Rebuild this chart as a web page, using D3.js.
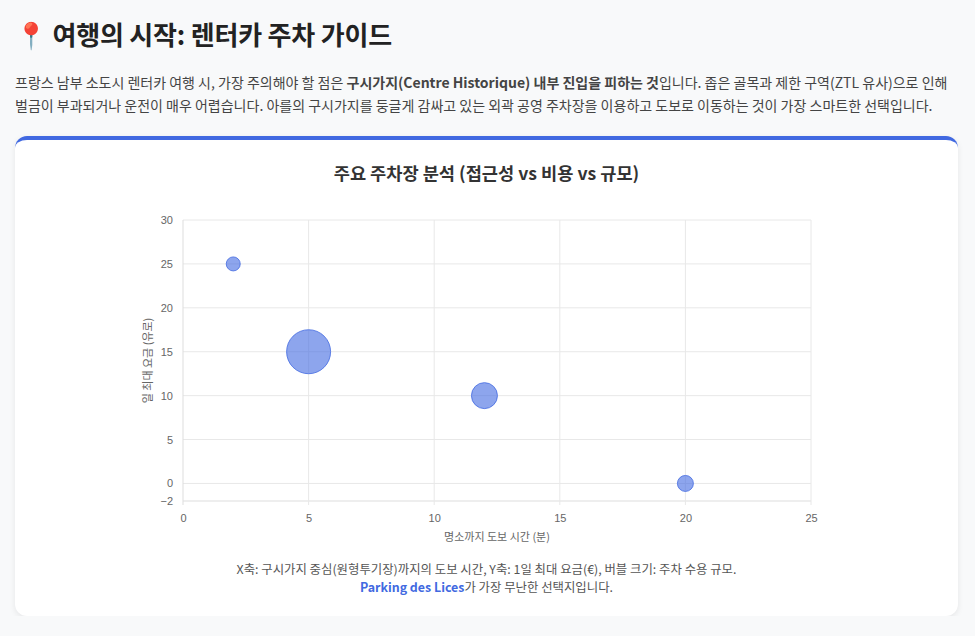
<!DOCTYPE html>
<html>
<head>
<meta charset="utf-8">
<script src="https://d3js.org/d3.v7.min.js"></script>
<style>
  body {
    margin: 0;
    padding: 0 15px;
    background: #f8f9fa;
    font-family: "Noto Sans CJK KR", "Noto Sans", sans-serif;
    color: #222;
  }
  h1 {
    margin: 0;
    padding-top: 17px;
    font-size: 26px;
    line-height: 34px;
    font-weight: 700;
    letter-spacing: -0.2px;
  }
  .intro {
    margin: 20px 0 0 0;
    font-size: 14px;
    line-height: 23px;
    color: #444;
  }
  .card {
    position: relative;
    margin-top: 19px;
    width: 943px;
    height: 476px;
    background: #fff;
    border-top: 4px solid #4169e1;
    border-radius: 12px;
    box-shadow: 0 2px 6px rgba(0,0,0,0.08);
  }
  .card svg { position: absolute; left: 0; top: 0; }
  .caption {
    position: absolute;
    left: 0; right: 0; top: 420px;
    margin: 0;
    text-align: center;
    font-size: 12.4px;
    line-height: 18px;
    color: #555;
  }
  .caption b { color: #4169e1; }
</style>
</head>
<body>
<h1>📍 여행의 시작: 렌터카 주차 가이드</h1>
<p class="intro">프랑스 남부 소도시 렌터카 여행 시, 가장 주의해야 할 점은 <b>구시가지(Centre Historique) 내부 진입을 피하는 것</b>입니다. 좁은 골목과 제한 구역(ZTL 유사)으로 인해 벌금이 부과되거나 운전이 매우 어렵습니다. 아를의 구시가지를 둥글게 감싸고 있는 외곽 공영 주차장을 이용하고 도보로 이동하는 것이 가장 스마트한 선택입니다.</p>
<div class="card" id="card">
  <p class="caption">X축: 구시가지 중심(원형투기장)까지의 도보 시간, Y축: 1일 최대 요금(€), 버블 크기: 주차 수용 규모.<br><b>Parking des Lices</b>가 가장 무난한 선택지입니다.</p>
</div>
<script>
// walking minutes to the centre, max daily fee (EUR), bubble radius (px, capacity)
const walkMinutes = [2, 5, 12, 20];
const dailyFee = [25, 15, 10, 0];
const bubbleRadius = [7, 22, 13, 8];

const xTicks = [0, 5, 10, 15, 20, 25];
const yTicks = [-2, 0, 5, 10, 15, 20, 25, 30];

const chartTitle = "주요 주차장 분석 (접근성 vs 비용 vs 규모)";
const xTitle = "명소까지 도보 시간 (분)";
const yTitle = "일 최대 요금 (유로)";

const W = 943, H = 420;
const plot = { left: 168, right: 796, top: 80, bottom: 361 };

const svg = d3.select("#card").append("svg")
  .attr("width", W)
  .attr("height", H);

const x = d3.scaleLinear().domain([0, 25]).range([plot.left, plot.right]);
const y = d3.scaleLinear().domain([-2, 30]).range([plot.bottom, plot.top]);

svg.append("text")
  .attr("x", W / 2)
  .attr("y", 40)
  .attr("text-anchor", "middle")
  .attr("font-family", "'Noto Sans CJK KR', 'Noto Sans', sans-serif")
  .attr("font-size", 17.6)
  .attr("font-weight", 700)
  .attr("fill", "#333")
  .text(chartTitle);

// grid
svg.append("g")
  .selectAll("line")
  .data(yTicks)
  .join("line")
  .attr("x1", plot.left).attr("x2", plot.right)
  .attr("y1", d => y(d)).attr("y2", d => y(d))
  .attr("stroke", d => d === -2 ? "#ddd" : "#e8e8e8")
  .attr("stroke-width", 1);

svg.append("g")
  .selectAll("line")
  .data(xTicks)
  .join("line")
  .attr("y1", plot.top).attr("y2", plot.bottom + 4)
  .attr("x1", d => x(d)).attr("x2", d => x(d))
  .attr("stroke", d => d === 0 ? "#ddd" : "#e8e8e8")
  .attr("stroke-width", 1);

// axes (labels only)
const xAxis = svg.append("g")
  .attr("transform", `translate(0,${plot.bottom})`)
  .call(d3.axisBottom(x).tickValues(xTicks).tickSize(0).tickPadding(13));
const yAxis = svg.append("g")
  .attr("transform", `translate(${plot.left},0)`)
  .call(d3.axisLeft(y).tickValues(yTicks).tickSize(0).tickPadding(10));

[xAxis, yAxis].forEach(g => {
  g.select(".domain").remove();
  g.selectAll("text")
    .attr("font-family", "'Liberation Sans', Arial, sans-serif")
    .attr("font-size", 11)
    .attr("fill", "#666");
});

svg.append("text")
  .attr("x", (plot.left + plot.right) / 2)
  .attr("y", 401)
  .attr("text-anchor", "middle")
  .attr("font-family", "'Noto Sans CJK KR', sans-serif")
  .attr("font-size", 11)
  .attr("fill", "#666")
  .text(xTitle);

svg.append("text")
  .attr("transform", `translate(137,${(plot.top + plot.bottom) / 2}) rotate(-90)`)
  .attr("text-anchor", "middle")
  .attr("font-family", "'Noto Sans CJK KR', sans-serif")
  .attr("font-size", 11)
  .attr("fill", "#666")
  .text(yTitle);

// bubbles
svg.append("g")
  .selectAll("circle")
  .data(walkMinutes.map((d, i) => ({ x: d, y: dailyFee[i], r: bubbleRadius[i] })))
  .join("circle")
  .attr("cx", d => x(d.x))
  .attr("cy", d => y(d.y))
  .attr("r", d => d.r)
  .attr("fill", "rgba(65,105,225,0.6)")
  .attr("stroke", "rgba(65,105,225,0.8)")
  .attr("stroke-width", 1);
</script>
</body>
</html>
